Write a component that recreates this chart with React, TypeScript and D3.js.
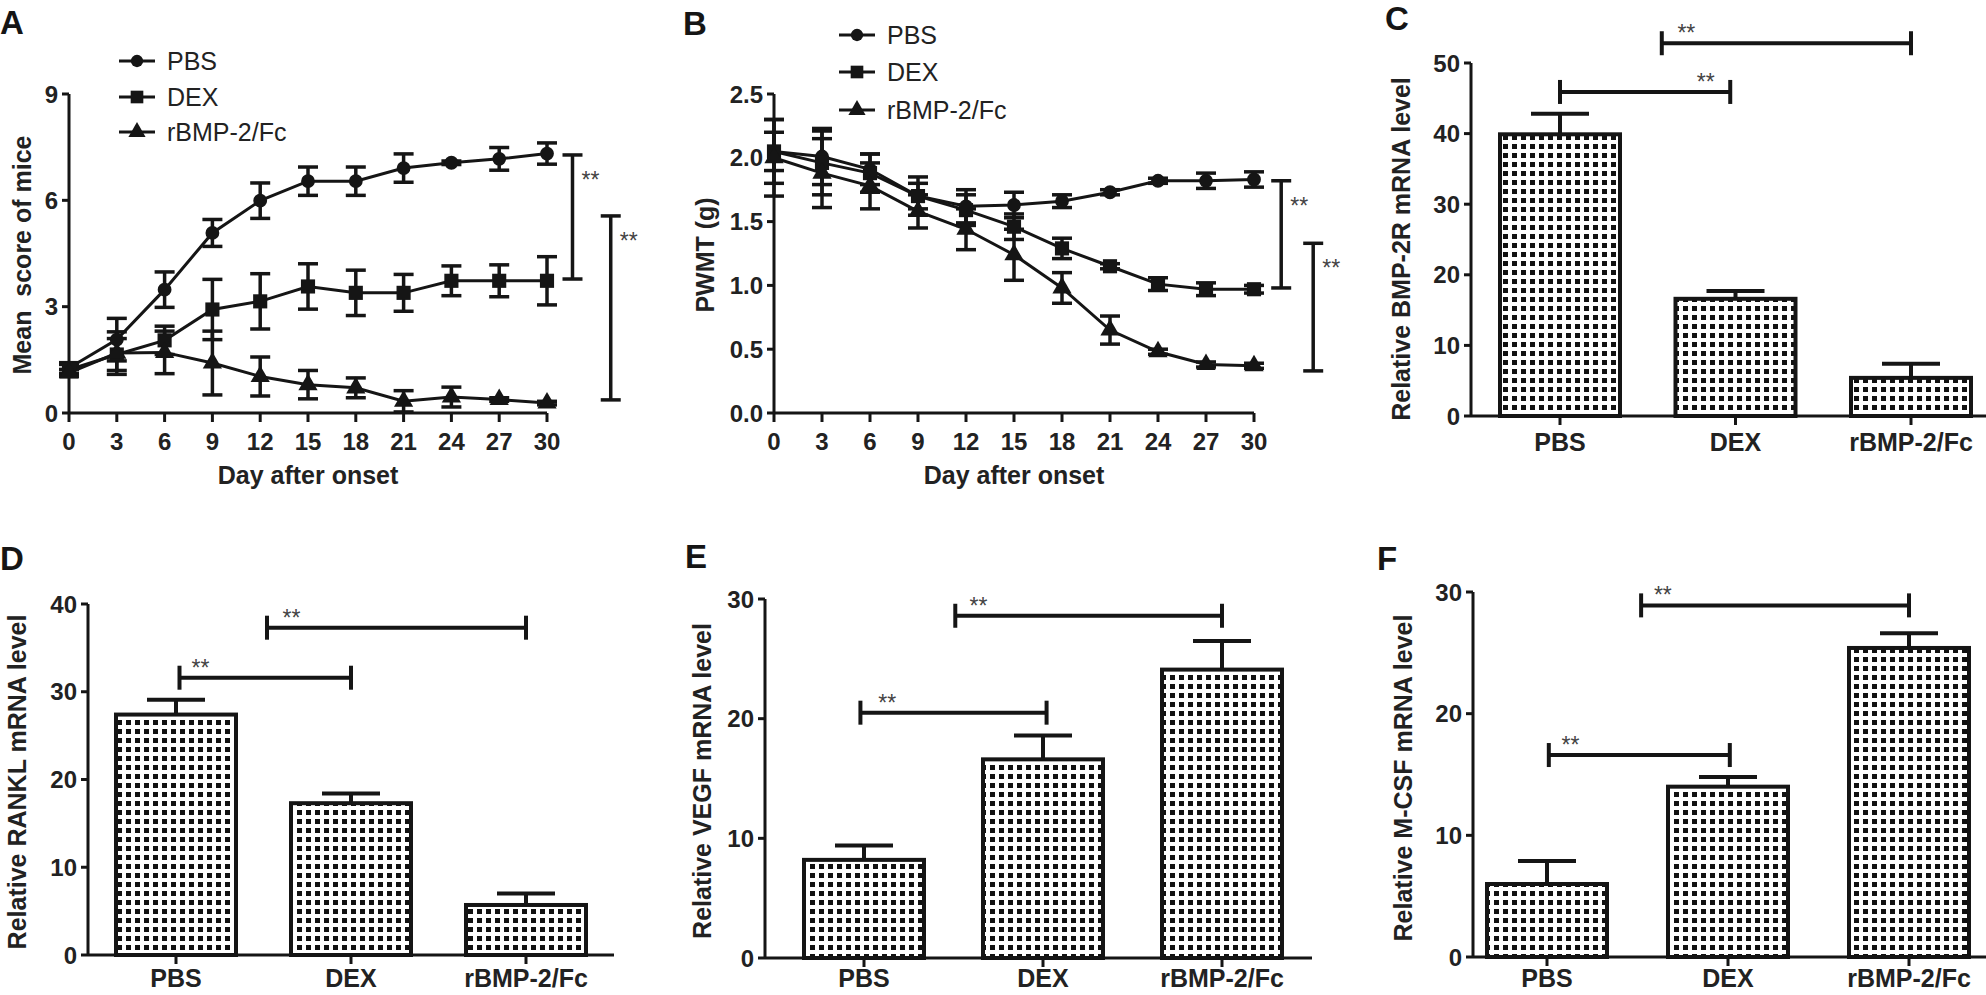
import React from "react";
import * as d3 from "d3";

const FONT = "'Liberation Sans', Arial, Helvetica, sans-serif";
const INK = "#151515";

const width = 1986;
const height = 995;

// days after onset (x axis of A and B)
const days = [0, 3, 6, 9, 12, 15, 18, 21, 24, 27, 30];
const groups = ["PBS", "DEX", "rBMP-2/Fc"];

// A: mean score of mice
const scorePBS = [1.27, 2.07, 3.48, 5.08, 5.99, 6.54, 6.54, 6.91, 7.06, 7.17, 7.32];
const scorePBSErr = [0.15, 0.6, 0.5, 0.38, 0.5, 0.4, 0.4, 0.4, 0.05, 0.32, 0.3];
const scoreDEX = [1.22, 1.65, 2.05, 2.92, 3.15, 3.57, 3.39, 3.39, 3.73, 3.73, 3.73];
const scoreDEXErr = [0.15, 0.45, 0.4, 0.85, 0.78, 0.64, 0.64, 0.52, 0.42, 0.45, 0.68];
const scoreBMP = [1.13, 1.69, 1.71, 1.41, 1.03, 0.8, 0.71, 0.33, 0.45, 0.38, 0.28];
const scoreBMPErr = [0.1, 0.6, 0.6, 0.9, 0.55, 0.4, 0.28, 0.3, 0.28, 0.05, 0.05];

// B: PWMT (g)
const pwmtPBS = [2.05, 2.01, 1.91, 1.7, 1.62, 1.63, 1.66, 1.73, 1.82, 1.82, 1.83];
const pwmtPBSErr = [0.25, 0.22, 0.12, 0.15, 0.13, 0.1, 0.05, 0.02, 0.02, 0.06, 0.06];
const pwmtDEX = [2.05, 1.96, 1.88, 1.7, 1.59, 1.46, 1.29, 1.15, 1.01, 0.97, 0.97];
const pwmtDEXErr = [0.15, 0.25, 0.15, 0.1, 0.12, 0.1, 0.08, 0.02, 0.05, 0.05, 0.03];
const pwmtBMP = [2.0, 1.88, 1.78, 1.58, 1.44, 1.24, 0.98, 0.65, 0.48, 0.38, 0.37];
const pwmtBMPErr = [0.3, 0.27, 0.18, 0.13, 0.16, 0.2, 0.12, 0.11, 0.02, 0.02, 0.02];

// significance bars of the line charts: day position, low, high
const scoreSig = [
  { day: 31.6, lo: 3.78, hi: 7.28 },
  { day: 34.0, lo: 0.37, hi: 5.56 },
];
const pwmtSig = [
  { day: 31.7, lo: 0.98, hi: 1.82 },
  { day: 33.7, lo: 0.33, hi: 1.33 },
];

// C-F: relative mRNA levels (mean, SD)
const bmp2rMean = [39.9, 16.6, 5.4];
const bmp2rSD = [2.9, 1.1, 2.0];
const ranklMean = [27.4, 17.3, 5.7];
const ranklSD = [1.7, 1.1, 1.3];
const vegfMean = [8.2, 16.6, 24.1];
const vegfSD = [1.2, 2.0, 2.4];
const mcsfMean = [6.0, 14.0, 25.4];
const mcsfSD = [1.9, 0.8, 1.2];

// brackets: from / to in group units, level, star position
const bmp2rSig = [
  { from: 0, to: 0.97, level: 45.9, star: 0.83 },
  { from: 0.58, to: 2, level: 52.8, star: 0.72 },
];
const ranklSig = [
  { from: 0.02, to: 1, level: 31.6, star: 0.14 },
  { from: 0.52, to: 2, level: 37.3, star: 0.66 },
];
const vegfSig = [
  { from: -0.02, to: 1.02, level: 20.5, star: 0.13 },
  { from: 0.51, to: 2, level: 28.6, star: 0.64 },
];
const mcsfSig = [
  { from: 0.01, to: 1.01, level: 16.6, star: 0.13 },
  { from: 0.52, to: 2, level: 28.9, star: 0.64 },
];

const symbols = [d3.symbolCircle, d3.symbolSquare, d3.symbolTriangle];
const symbolSizes = [150, 200, 160];

const LineChart = (p) => {
  const x = d3.scaleLinear().domain([0, 30]).range([p.left, p.right]);
  const y = d3.scaleLinear().domain([0, p.yMax]).range([p.bottom, p.top]);
  const line = d3
    .line<number>()
    .x((d, i) => x(days[i]))
    .y((d) => y(d));

  return (
    <g>
      <text x={p.letterX} y={p.letterY} fontSize={33} fontWeight="bold" fill={INK}>
        {p.letter}
      </text>
      <line x1={p.left} x2={p.left} y1={p.top} y2={p.bottom} stroke={INK} strokeWidth={3} />
      <line x1={p.left} x2={p.right} y1={p.bottom} y2={p.bottom} stroke={INK} strokeWidth={3} />
      {p.yTicks.map((t) => (
        <g key={t}>
          <line x1={p.left - 7} x2={p.left} y1={y(t)} y2={y(t)} stroke={INK} strokeWidth={3} />
          <text x={p.left - 11} y={y(t)} textAnchor="end" dominantBaseline="central" fontSize={24} fontWeight="bold" fill="#222">
            {p.fmt(t)}
          </text>
        </g>
      ))}
      {days.map((d) => (
        <g key={d}>
          <line x1={x(d)} x2={x(d)} y1={p.bottom} y2={p.bottom + 9} stroke={INK} strokeWidth={3} />
          <text x={x(d)} y={p.bottom + 28} textAnchor="middle" dominantBaseline="central" fontSize={24} fontWeight="bold" fill="#222">
            {d}
          </text>
        </g>
      ))}
      <text x={(p.left + p.right) / 2} y={p.bottom + 62} textAnchor="middle" dominantBaseline="central" fontSize={25} fontWeight="bold" fill="#222">
        Day after onset
      </text>
      <text
        transform={`translate(${p.labelX},${p.labelY}) rotate(-90)`}
        textAnchor="middle"
        dominantBaseline="central"
        fontSize={25}
        fontWeight="bold"
        fill="#222"
        style={{ whiteSpace: "pre" }}
      >
        {p.yLabel}
      </text>

      {p.series.map((s, k) => (
        <path key={"l" + k} d={line(s.values)} fill="none" stroke={INK} strokeWidth={3} />
      ))}
      {p.series.map((s, k) =>
        s.values.map((v, i) => (
          <g key={"e" + k + i} stroke={INK} strokeWidth={3.5}>
            <line x1={x(days[i])} x2={x(days[i])} y1={y(v - s.errs[i])} y2={y(v + s.errs[i])} />
            <line x1={x(days[i]) - 10} x2={x(days[i]) + 10} y1={y(v - s.errs[i])} y2={y(v - s.errs[i])} />
            <line x1={x(days[i]) - 10} x2={x(days[i]) + 10} y1={y(v + s.errs[i])} y2={y(v + s.errs[i])} />
          </g>
        ))
      )}
      {p.series.map((s, k) =>
        s.values.map((v, i) => (
          <path
            key={"m" + k + i}
            d={d3.symbol(symbols[k], symbolSizes[k])()}
            transform={`translate(${x(days[i])},${y(v)})`}
            fill={INK}
          />
        ))
      )}

      {groups.map((g, k) => (
        <g key={g} transform={`translate(${p.legendX},${p.legendY[k]})`}>
          <line x1={0} x2={36} y1={0} y2={0} stroke={INK} strokeWidth={3} />
          <path d={d3.symbol(symbols[k], symbolSizes[k] * 0.8)()} transform="translate(18,0)" fill={INK} />
          <text x={48} y={0} dominantBaseline="central" fontSize={25} fill="#222">
            {g}
          </text>
        </g>
      ))}

      {p.sig.map((b, i) => (
        <g key={"s" + i} stroke={INK} strokeWidth={3.5}>
          <line x1={x(b.day)} x2={x(b.day)} y1={y(b.lo)} y2={y(b.hi)} />
          <line x1={x(b.day) - 10} x2={x(b.day) + 10} y1={y(b.lo)} y2={y(b.lo)} />
          <line x1={x(b.day) - 10} x2={x(b.day) + 10} y1={y(b.hi)} y2={y(b.hi)} />
          <text x={x(b.day) + 9} y={y(b.hi) + 33} fontSize={23} fill="#444" stroke="none">
            **
          </text>
        </g>
      ))}
    </g>
  );
};

const BarChart = (p) => {
  const x = d3.scalePoint().domain(groups).range([p.c0, p.c2]);
  const xs = d3.scaleLinear().domain([0, 2]).range([p.c0, p.c2]);
  const y = d3.scaleLinear().domain([0, p.yMax]).range([p.bottom, p.top]);
  const barW = 120;

  return (
    <g>
      <text x={p.letterX} y={p.letterY} fontSize={33} fontWeight="bold" fill={INK}>
        {p.letter}
      </text>
      <text
        transform={`translate(${p.labelX},${p.labelY}) rotate(-90)`}
        textAnchor="middle"
        dominantBaseline="central"
        fontSize={25}
        fontWeight="bold"
        fill="#222"
      >
        {p.yLabel}
      </text>
      {groups.map((g, i) => (
        <g key={g}>
          <line x1={x(g)} x2={x(g)} y1={y(p.mean[i])} y2={y(p.mean[i] + p.sd[i])} stroke={INK} strokeWidth={4} />
          <line x1={x(g) - 29} x2={x(g) + 29} y1={y(p.mean[i] + p.sd[i])} y2={y(p.mean[i] + p.sd[i])} stroke={INK} strokeWidth={4} />
          <rect
            x={x(g) - barW / 2}
            y={y(p.mean[i])}
            width={barW}
            height={y(0) - y(p.mean[i])}
            fill="url(#dots)"
            stroke={INK}
            strokeWidth={4}
          />
        </g>
      ))}
      <line x1={p.axisX} x2={p.axisX} y1={p.top} y2={p.bottom} stroke={INK} strokeWidth={3} />
      <line x1={p.axisX} x2={p.axisEnd} y1={p.bottom} y2={p.bottom} stroke={INK} strokeWidth={3} />
      {y.ticks(p.yMax / 10).map((t) => (
        <g key={t}>
          <line x1={p.axisX - 7} x2={p.axisX} y1={y(t)} y2={y(t)} stroke={INK} strokeWidth={3} />
          <text x={p.axisX - 11} y={y(t)} textAnchor="end" dominantBaseline="central" fontSize={24} fontWeight="bold" fill="#222">
            {t}
          </text>
        </g>
      ))}
      {groups.map((g) => (
        <g key={"t" + g}>
          <line x1={x(g)} x2={x(g)} y1={p.bottom} y2={p.bottom + 9} stroke={INK} strokeWidth={3} />
          <text x={x(g)} y={p.bottom + p.catDy} textAnchor="middle" dominantBaseline="central" fontSize={25} fontWeight="bold" fill="#222">
            {g}
          </text>
        </g>
      ))}
      {p.sig.map((b, i) => (
        <g key={"s" + i} stroke={INK} strokeWidth={4}>
          <line x1={xs(b.from)} x2={xs(b.to)} y1={y(b.level)} y2={y(b.level)} />
          <line x1={xs(b.from)} x2={xs(b.from)} y1={y(b.level) - 12} y2={y(b.level) + 12} />
          <line x1={xs(b.to)} x2={xs(b.to)} y1={y(b.level) - 12} y2={y(b.level) + 12} />
          <text x={xs(b.star)} y={y(b.level) - 2} textAnchor="middle" fontSize={23} fill="#444" stroke="none">
            **
          </text>
        </g>
      ))}
    </g>
  );
};

const App = () => {
  const score = [
    { values: scorePBS, errs: scorePBSErr },
    { values: scoreDEX, errs: scoreDEXErr },
    { values: scoreBMP, errs: scoreBMPErr },
  ];
  const pwmt = [
    { values: pwmtPBS, errs: pwmtPBSErr },
    { values: pwmtDEX, errs: pwmtDEXErr },
    { values: pwmtBMP, errs: pwmtBMPErr },
  ];

  return (
    <svg
      width={width}
      height={height}
      style={{ position: "absolute", left: 0, top: 0, background: "#fff" }}
      fontFamily={FONT}
    >
      <defs>
        <pattern id="dots" width={9} height={9} patternUnits="userSpaceOnUse">
          <rect width={9} height={9} fill="#fff" />
          <rect width={5} height={5} fill="#111" />
        </pattern>
      </defs>
      <rect width={width} height={height} fill="#fff" />

      <LineChart
        left={69} right={547} top={94} bottom={413}
        yMax={9} yTicks={[0, 3, 6, 9]} fmt={(t) => String(t)}
        series={score} sig={scoreSig}
        legendX={119} legendY={[61, 97, 132]}
        yLabel="Mean  score of mice" labelX={22} labelY={255}
        letter="A" letterX={0} letterY={34}
      />
      <LineChart
        left={774} right={1254} top={94} bottom={413}
        yMax={2.5} yTicks={[0, 0.5, 1, 1.5, 2, 2.5]} fmt={d3.format(".1f")}
        series={pwmt} sig={pwmtSig}
        legendX={839} legendY={[35, 72, 110]}
        yLabel="PWMT (g)" labelX={705} labelY={255}
        letter="B" letterX={683} letterY={35}
      />

      <BarChart
        axisX={1471} c0={1560} c2={1911} axisEnd={1986}
        top={63} bottom={416} yMax={50} catDy={26}
        mean={bmp2rMean} sd={bmp2rSD} sig={bmp2rSig}
        yLabel="Relative BMP-2R mRNA level" labelX={1401} labelY={249}
        letter="C" letterX={1385} letterY={30}
      />
      <BarChart
        axisX={88} c0={176} c2={526} axisEnd={614}
        top={604} bottom={955} yMax={40} catDy={23}
        mean={ranklMean} sd={ranklSD} sig={ranklSig}
        yLabel="Relative RANKL mRNA level" labelX={17} labelY={782}
        letter="D" letterX={0} letterY={570}
      />
      <BarChart
        axisX={765} c0={864} c2={1222} axisEnd={1312}
        top={599} bottom={958} yMax={30} catDy={20}
        mean={vegfMean} sd={vegfSD} sig={vegfSig}
        yLabel="Relative VEGF mRNA level" labelX={702} labelY={781}
        letter="E" letterX={685} letterY={568}
      />
      <BarChart
        axisX={1473} c0={1547} c2={1909} axisEnd={1986}
        top={592} bottom={957} yMax={30} catDy={21}
        mean={mcsfMean} sd={mcsfSD} sig={mcsfSig}
        yLabel="Relative M-CSF mRNA level" labelX={1403} labelY={778}
        letter="F" letterX={1377} letterY={570}
      />
    </svg>
  );
};

export default App;
